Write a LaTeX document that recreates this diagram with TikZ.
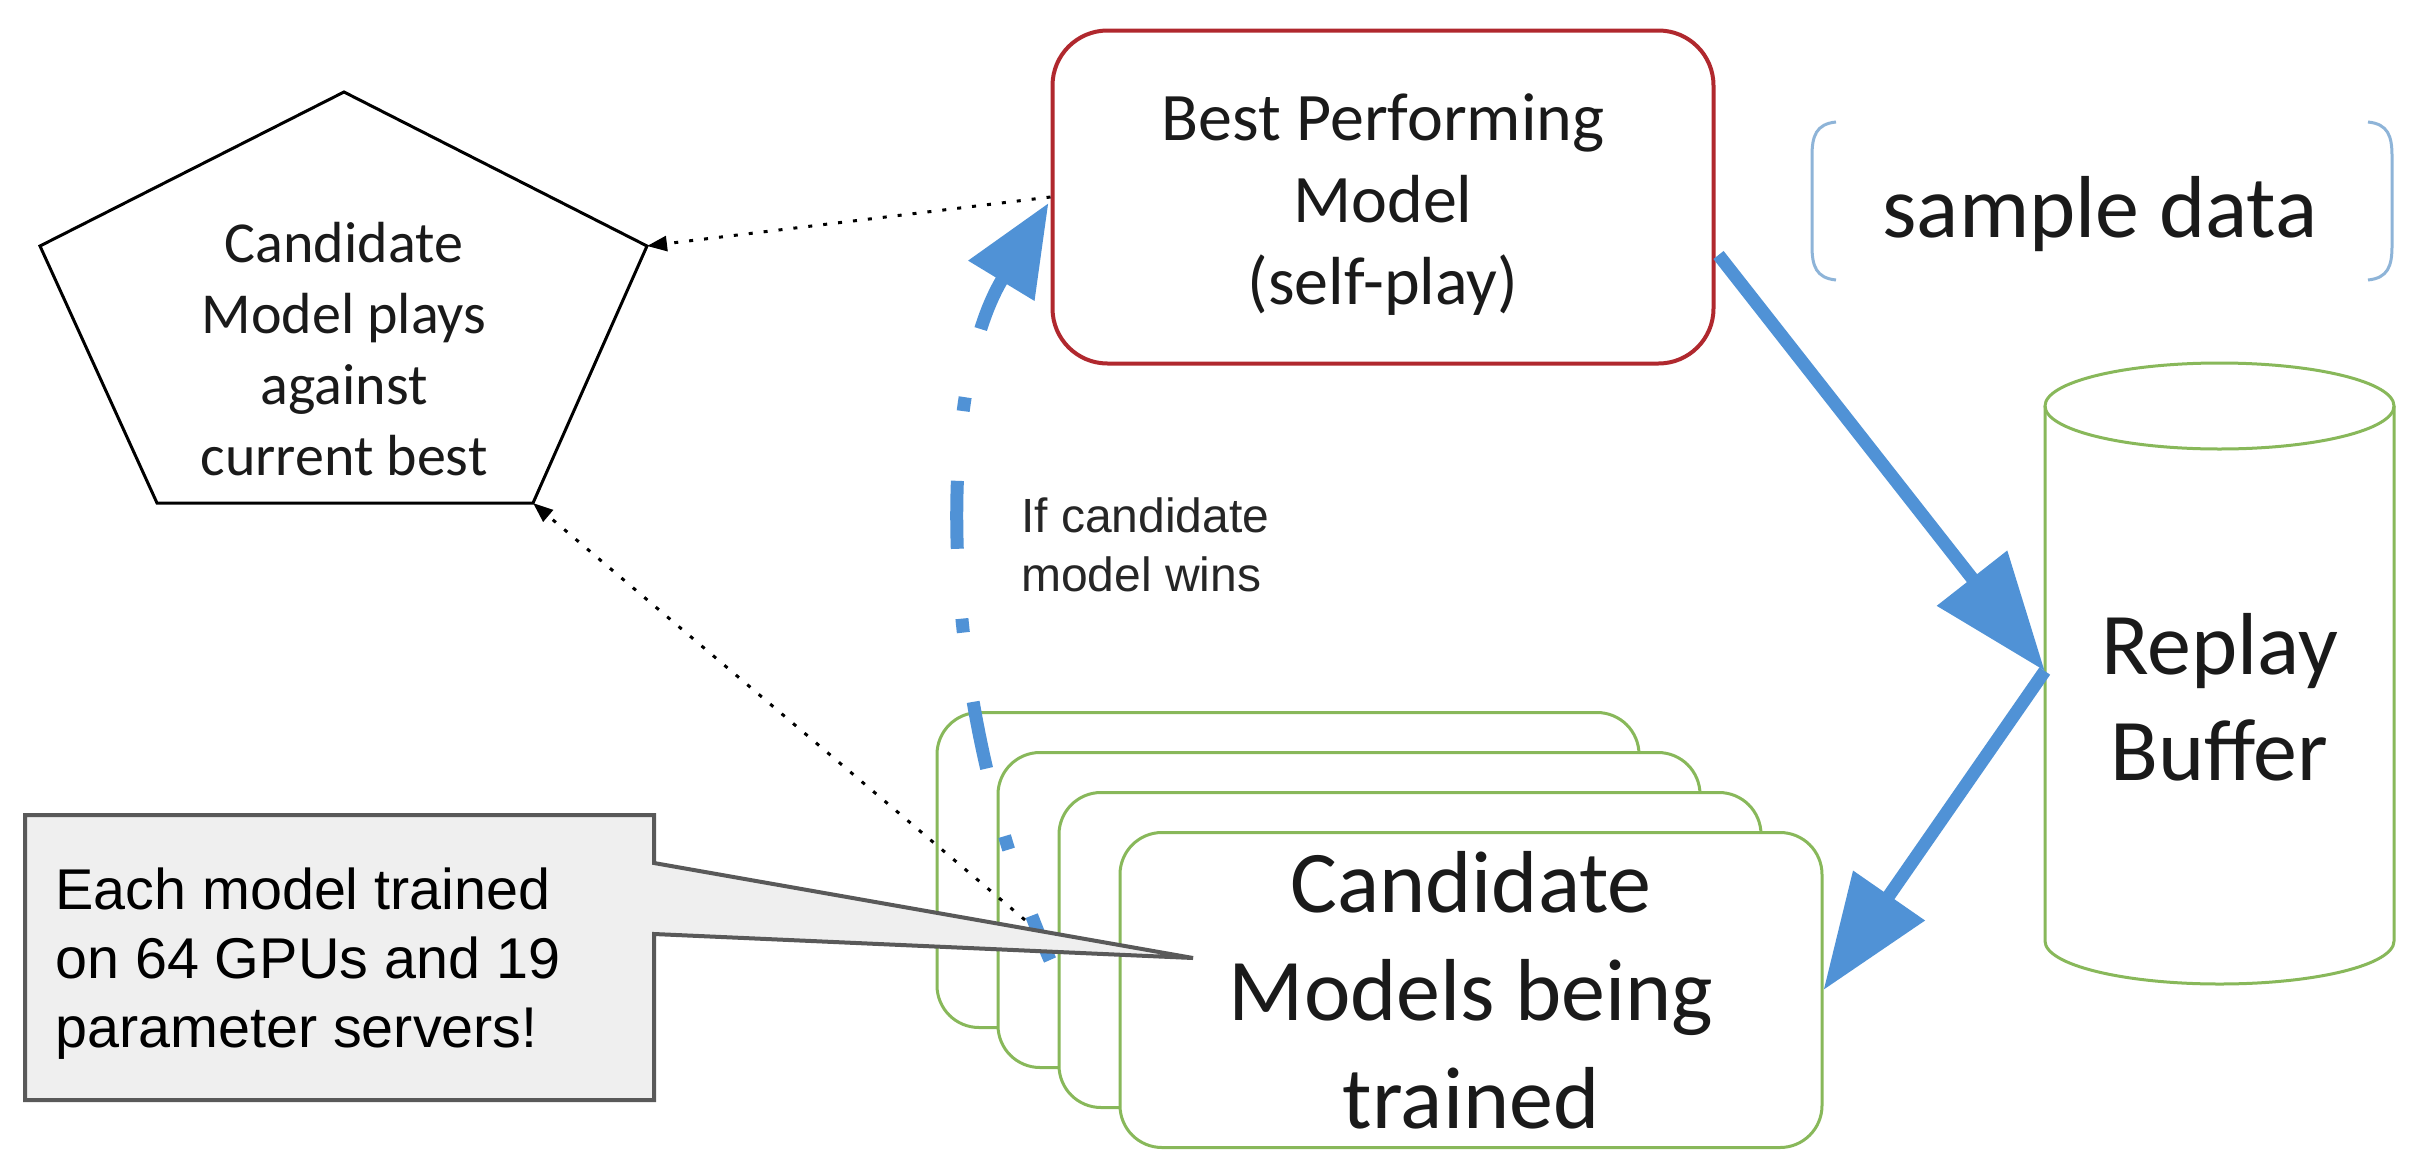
\documentclass[tikz,border=0pt]{standalone}
\usepackage{fontspec}
\setmainfont{Carlito}
\newfontfamily\arialf{Liberation Sans}
\usetikzlibrary{arrows.meta,calc}
\definecolor{bblue}{RGB}{80,146,214}
\definecolor{bred}{RGB}{176,40,46}
\definecolor{bgreen}{RGB}{136,184,90}
\definecolor{cgray}{RGB}{239,239,239}
\definecolor{cedge}{RGB}{89,89,89}
\definecolor{brk}{RGB}{142,180,216}
\definecolor{txt}{RGB}{26,26,26}
\begin{document}
\begin{tikzpicture}[x=1pt,y=-1pt,
  greenbox/.style={draw=bgreen, line width=3pt, fill=white, rounded corners=42pt,
    minimum width=702pt, minimum height=315pt, inner sep=0pt},
  bestbox/.style={draw=bred, line width=4pt, fill=white, rounded corners=55pt,
    minimum width=661pt, minimum height=333pt, inner sep=0pt},
  dotline/.style={draw=black, line width=3pt, dash pattern=on 4pt off 11pt,
    -{Triangle[length=20pt,width=15pt]}},
  bluearrow/.style={draw=bblue, line width=13pt, -{Triangle[length=118pt,width=86pt]}},
  dasharrow/.style={draw=bblue, line width=13pt, dash pattern=on 68pt off 70pt on 14pt off 70pt,
    dash phase=20pt, -{Triangle[length=91pt,width=74pt]}},
  bigtext/.style={text=txt, align=center, font=\fontsize{88}{108}\selectfont, inner sep=0pt},
]
\useasboundingbox (0,0) rectangle (2428,1170);
\fill[white] (0,0) rectangle (2428,1170);

% pentagon
\coordinate (pT) at (344,92);
\coordinate (pR) at (647,246);
\coordinate (pBR) at (533,503);
\coordinate (pBL) at (157,503);
\coordinate (pL) at (40,246);
\draw[line width=3pt, line join=miter] (pT) -- (pR) -- (pBR) -- (pBL) -- (pL) -- cycle;
\node[text=txt, align=center, font=\fontsize{58}{71}\selectfont, inner sep=0pt] (pent) at (344,349)
  {Candidate\\Model plays\\against\\current best};

% best performing model
\node[bestbox] (best) at (1383,197) {};
\node[text=txt, align=center, inner sep=0pt, font=\fontsize{68}{82}\selectfont] (besttext) at (1383,205)
  {Best Performing\\Model\\(self-play)};

% sample data
\node[text=txt, font=\fontsize{88}{108}\selectfont, inner sep=0pt, anchor=base] (sample) at (2100,237) {sample data};
\draw[brk, line width=3pt] (1836,122) .. controls (1816,124) and (1812,136) .. (1812,156)
  -- (1812,246) .. controls (1812,266) and (1816,278) .. (1836,280);
\draw[brk, line width=3pt] (2368,122) .. controls (2388,124) and (2392,136) .. (2392,156)
  -- (2392,246) .. controls (2392,266) and (2388,278) .. (2368,280);

% replay buffer cylinder
\node[minimum width=349pt, minimum height=624pt, inner sep=0pt] (rb) at (2219.5,671) {};
\draw[bgreen, line width=3pt, fill=white] (2045,406) -- (2045,941)
  arc[start angle=180, end angle=0, x radius=174.5, y radius=43] -- (2394,406);
\draw[bgreen, line width=3pt] (2219.5,406) ellipse [x radius=174.5, y radius=43];
\node[bigtext, font=\fontsize{88}{106}\selectfont] (rbtext) at (2219.5,697) {Replay\\Buffer};

% candidate model stack
\node[greenbox] (c1) at (1288,870) {};
\node[greenbox] (c2) at (1349,910) {};
\node[greenbox] (c3) at (1410,950) {};
\node[greenbox, align=center, text=txt, font=\fontsize{88}{108}\selectfont] (c4) at (1471,990)
  {Candidate\\Models being\\trained};

% label
\node[text=black!85, align=left, anchor=west, inner sep=0pt, font=\arialf\fontsize{48}{59}\selectfont]
  (wins) at (1021,545) {If candidate\\model wins};

% connectors
\coordinate (dstart) at (1025,920);
\coordinate (cstart) at (1050,960);
\draw[dotline] (best.west) -- (pR);
\draw[dotline] (dstart) -- (pBR);
\draw[dasharrow] (cstart) .. controls (935,700) and (935,390) .. ($(best.west)+(-2,6)$);
\draw[bluearrow] ($(best.east)+(3,58)$) -- (rb.west);
\draw[bluearrow, -{Triangle[length=115pt,width=84pt]}] (rb.west) -- (c4.east);

% callout
\coordinate (ctip) at (1193,958);
\draw[cedge, fill=cgray, line width=4pt, line join=miter]
  (25,815) -- (654,815) -- (654,863) -- (ctip) -- (654,934) -- (654,1100) -- (25,1100) -- cycle;
\node[text=black, align=left, anchor=west, inner sep=0pt, font=\arialf\fontsize{57.5}{69}\selectfont]
  (callout) at (55,964) {Each model trained\\on 64 GPUs and 19\\parameter servers!};
\end{tikzpicture}
\end{document}
